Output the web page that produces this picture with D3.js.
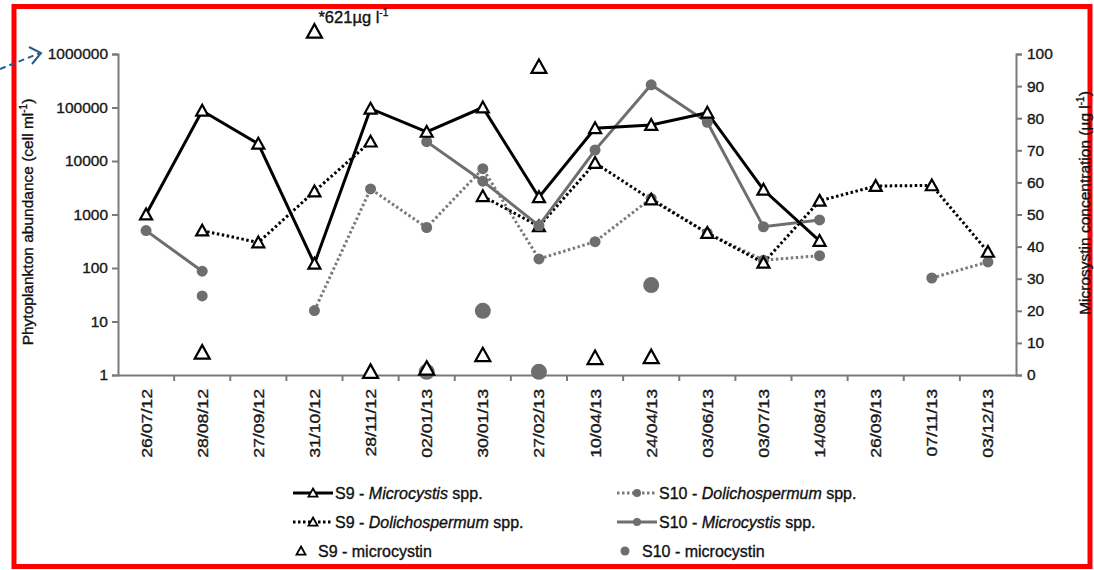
<!DOCTYPE html>
<html>
<head>
<meta charset="utf-8">
<script src="https://cdn.jsdelivr.net/npm/d3@7"></script>
<style>
  body { margin: 0; background: #fff; }
  text { font-family: "Liberation Sans", Arial, sans-serif; stroke: #111; stroke-width: 0.35px; }
</style>
</head>
<body>
<svg id="chart" width="1094" height="570"></svg>
<script>
// sampling dates (x categories)
var dates = ["26/07/12", "28/08/12", "27/09/12", "31/10/12", "28/11/12", "02/01/13", "30/01/13", "27/02/13",
             "10/04/13", "24/04/13", "03/06/13", "03/07/13", "14/08/13", "26/09/13", "07/11/13", "03/12/13"];

// abundance, cell ml-1 (null = not sampled / not detected)
var s9Micro    = [1000, 87000, 21000, 120, 95000, 35000, 100000, 2100, 41000, 47000, 80000, 2900, 320, null, null, null];
var s9Dolicho  = [null, 500, 300, 2700, 23000, null, 2200, 600, 9200, 1900, 450, 125, 1800, 3400, 3500, 200];
var s10Dolicho = [null, 30, null, 16, 3000, 570, 7200, 148, 310, 2000, 450, 140, 170, null, 65, 130];
var s10Micro   = [500, 87, null, null, null, 23000, 4200, 620, 16000, 265000, 53000, 590, 790, null, null, null];

// microcystin, ug l-1
var s9Mc  = [null, 7, null, 621, 1, 2, 6.2, 96, 5.3, 5.6, null, null, null, null, null, null];
var s10Mc = [null, null, null, null, null, 1, 20, 1, null, 28, null, null, null, null, null, null];

var leftTicks = [1, 10, 100, 1000, 10000, 100000, 1000000];
var rightTicks = [0, 10, 20, 30, 40, 50, 60, 70, 80, 90, 100];
var offScaleShown = 107; // where the 621 value is drawn, above the axis

var svg = d3.select("#chart");

var x = d3.scaleBand().domain(dates).range([118, 1016]);
var yL = d3.scaleLog().domain([1, 1000000]).range([375, 54]);
var yR = d3.scaleLinear().domain([0, 100]).range([375, 54]);

function cx(i) { return x(dates[i]) + x.bandwidth() / 2; }

// red frame
svg.append("rect")
    .attr("x", 14).attr("y", 6.5)
    .attr("width", 1076).attr("height", 560)
    .attr("fill", "none").attr("stroke", "#ff0000").attr("stroke-width", 5);

// dashed blue arrow
svg.append("path")
    .attr("d", "M0,69 L40,53")
    .attr("stroke", "#2b5b8c").attr("stroke-width", 2)
    .attr("stroke-dasharray", "6,4").attr("fill", "none");
svg.append("path")
    .attr("d", "M29,47 L41,53 L32,64")
    .attr("stroke", "#2b5b8c").attr("stroke-width", 2).attr("fill", "none");

// axes
var axisColor = "#7a7a7a";
var gl = svg.append("g").attr("transform", "translate(118,0)")
    .call(d3.axisLeft(yL).tickValues(leftTicks).tickFormat(d3.format("d")).tickSize(6).tickPadding(4));
var gr = svg.append("g").attr("transform", "translate(1016,0)")
    .call(d3.axisRight(yR).tickValues(rightTicks).tickSize(6).tickPadding(5));
var gb = svg.append("g").attr("transform", "translate(0,375)")
    .call(d3.axisBottom(x).tickSize(0).tickFormat(""));

[gl, gr, gb].forEach(function(g) {
    g.select(".domain").attr("stroke", axisColor).attr("stroke-width", 2);
    g.selectAll(".tick line").attr("stroke", axisColor).attr("stroke-width", 2);
    g.selectAll(".tick text").attr("fill", "#1a1a1a").style("font-size", "15.5px")
        .style("font-family", "Liberation Sans, Arial, sans-serif");
});

// bottom tick marks at band boundaries
svg.selectAll(".btick")
    .data(dates.slice(1))
    .enter().append("line")
    .attr("x1", function(d) { return x(d); })
    .attr("x2", function(d) { return x(d); })
    .attr("y1", 375).attr("y2", 381)
    .attr("stroke", axisColor).attr("stroke-width", 2);

// rotated date labels
svg.selectAll(".xlab")
    .data(dates)
    .enter().append("text")
    .attr("transform", function(d, i) { return "translate(" + (cx(i) + 5.5) + ",389) rotate(-90) scale(1.22,1)"; })
    .attr("text-anchor", "end")
    .style("font-size", "14.5px")
    .attr("fill", "#1a1a1a")
    .text(function(d) { return d; });

// axis titles
var lt = svg.append("text")
    .attr("transform", "translate(33,222) rotate(-90)")
    .attr("text-anchor", "middle")
    .style("font-size", "15.5px").attr("fill", "#111");
lt.append("tspan").text("Phytoplankton abundance (cell ml");
lt.append("tspan").attr("dy", -6).style("font-size", "10px").text("-1");
lt.append("tspan").attr("dy", 6).text(")");

var rt = svg.append("text")
    .attr("transform", "translate(1090,203) rotate(-90)")
    .attr("text-anchor", "middle")
    .style("font-size", "15.5px").attr("fill", "#111");
rt.append("tspan").text("Microsystin concentration (µg l");
rt.append("tspan").attr("dy", -6).style("font-size", "10px").text("-1");
rt.append("tspan").attr("dy", 6).text(")");

// line generators
function lineFor(arr) {
    return d3.line()
        .defined(function(d) { return d != null; })
        .x(function(d, i) { return cx(i); })
        .y(function(d) { return yL(d); })(arr);
}

var grey = "#6e6e6e";

var series = [
    {data: s10Dolicho, color: "#7a7a7a", dash: "2.5,2.5", marker: "circle"},
    {data: s9Dolicho, color: "#000", dash: "2.5,2.5", marker: "tri"},
    {data: s10Micro, color: grey, dash: null, marker: "circle"},
    {data: s9Micro, color: "#000", dash: null, marker: "tri"}
];

function triPath(w) {
    var h = w * 0.9;
    return "M0," + (-h * 0.55) + " L" + (w / 2) + "," + (h * 0.45) + " L" + (-w / 2) + "," + (h * 0.45) + " Z";
}

series.forEach(function(s) {
    svg.append("path")
        .attr("d", lineFor(s.data))
        .attr("fill", "none")
        .attr("stroke", s.color)
        .attr("stroke-width", 3)
        .attr("stroke-dasharray", s.dash);
});

series.forEach(function(s) {
    var pts = s.data.map(function(v, i) { return {v: v, i: i}; }).filter(function(p) { return p.v != null; });
    if (s.marker == "circle") {
        svg.selectAll(null).data(pts).enter().append("circle")
            .attr("cx", function(p) { return cx(p.i); })
            .attr("cy", function(p) { return yL(p.v); })
            .attr("r", 5.5)
            .attr("fill", grey);
    } else {
        svg.selectAll(null).data(pts).enter().append("path")
            .attr("transform", function(p) { return "translate(" + cx(p.i) + "," + yL(p.v) + ")"; })
            .attr("d", triPath(12))
            .attr("fill", "#fff").attr("stroke", "#000").attr("stroke-width", 2.2);
    }
});

// microcystin points (right axis)
var mc10 = s10Mc.map(function(v, i) { return {v: v, i: i}; }).filter(function(p) { return p.v != null; });
svg.selectAll(null).data(mc10).enter().append("circle")
    .attr("cx", function(p) { return cx(p.i); })
    .attr("cy", function(p) { return yR(p.v); })
    .attr("r", 8)
    .attr("fill", grey);

var mc9 = s9Mc.map(function(v, i) { return {v: v, i: i}; }).filter(function(p) { return p.v != null; });
svg.selectAll(null).data(mc9).enter().append("path")
    .attr("transform", function(p) { return "translate(" + cx(p.i) + "," + yR(Math.min(p.v, offScaleShown)) + ")"; })
    .attr("d", triPath(15))
    .attr("fill", "#fff").attr("stroke", "#000").attr("stroke-width", 2.2);

// off-scale annotation
var off = mc9.filter(function(p) { return p.v > 100; })[0];
var an = svg.append("text")
    .attr("x", cx(off.i) + 4).attr("y", yR(offScaleShown) - 9)
    .style("font-size", "16.5px").attr("fill", "#111");
an.append("tspan").text("*" + off.v + "µg l");
an.append("tspan").attr("dy", -7).style("font-size", "10px").text("-1");

// legend
var legend = [
    {x: 293, y: 493, label: ["S9 - ", "Microcystis", " spp."], color: "#000", dash: null, marker: "tri", line: true},
    {x: 617, y: 493, label: ["S10 - ", "Dolichospermum", " spp."], color: "#7a7a7a", dash: "2.5,2.5", marker: "circle", line: true},
    {x: 293, y: 522, label: ["S9 - ", "Dolichospermum", " spp."], color: "#000", dash: "2.5,2.5", marker: "tri", line: true},
    {x: 617, y: 522, label: ["S10 - ", "Microcystis", " spp."], color: grey, dash: null, marker: "circle", line: true},
    {x: 293, y: 551, label: ["S9 - microcystin"], marker: "tri", line: false},
    {x: 617, y: 551, label: ["S10 - microcystin"], marker: "circle", line: false}
];

legend.forEach(function(l) {
    var g = svg.append("g").attr("transform", "translate(" + l.x + "," + l.y + ")");
    if (l.line) {
        g.append("line").attr("x1", 0).attr("x2", 40).attr("y1", 0).attr("y2", 0)
            .attr("stroke", l.color).attr("stroke-width", 3).attr("stroke-dasharray", l.dash);
    }
    var mx = l.line ? 20 : 8;
    if (l.marker == "tri") {
        g.append("path").attr("transform", "translate(" + mx + ",0)").attr("d", triPath(9))
            .attr("fill", "#fff").attr("stroke", "#000").attr("stroke-width", 1.8);
    } else {
        g.append("circle").attr("cx", mx).attr("cy", 0).attr("r", l.line ? 4 : 4.5).attr("fill", grey);
    }
    var t = g.append("text").attr("x", l.line ? 42 : 25).attr("y", 6)
        .style("font-size", "16px").attr("fill", "#111");
    l.label.forEach(function(part, k) {
        t.append("tspan").style("font-style", k == 1 ? "italic" : "normal").text(part);
    });
});
</script>
</body>
</html>
